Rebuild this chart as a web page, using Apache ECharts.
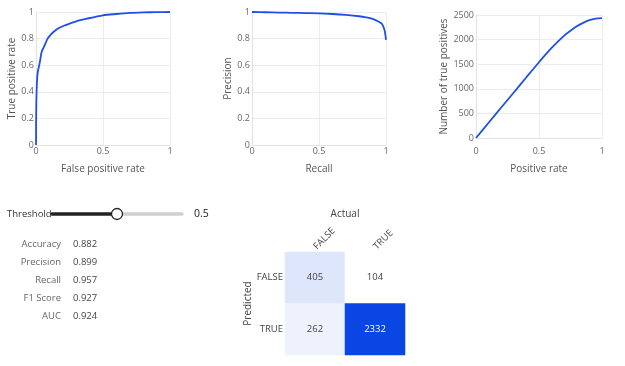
<!DOCTYPE html>
<html>
<head>
<meta charset="utf-8">
<script src="https://cdn.jsdelivr.net/npm/echarts@6/dist/echarts.min.js"></script>
<style>
html,body{margin:0;padding:0;background:#fff;}
#c{width:625px;height:366px;}
</style>
</head>
<body>
<div id="c"></div>
<script>
// ROC curve (false positive rate, true positive rate)
const rocFpr = [0, 0.001, 0.003, 0.006, 0.01, 0.015, 0.02, 0.03, 0.042, 0.06, 0.087, 0.11, 0.13, 0.17, 0.216, 0.3, 0.38, 0.5, 0.6, 0.7, 0.8, 0.9, 1];
const rocTpr = [0, 0.2, 0.35, 0.45, 0.52, 0.56, 0.58, 0.63, 0.7, 0.74, 0.8, 0.83, 0.85, 0.88, 0.9, 0.93, 0.95, 0.975, 0.985, 0.993, 0.997, 0.999, 1];
// Precision-recall curve
const prRecall = [0, 0.1, 0.2, 0.3, 0.4, 0.5, 0.6, 0.7, 0.8, 0.85, 0.9, 0.95, 0.97, 0.98, 0.99, 0.995, 1];
const prPrecision = [1.0, 0.998, 0.996, 0.994, 0.992, 0.99, 0.985, 0.978, 0.968, 0.96, 0.948, 0.925, 0.91, 0.89, 0.86, 0.83, 0.79];
// Cumulative gains (positive rate, number of true positives)
const gainRate = [0, 0.1, 0.2, 0.3, 0.4, 0.5, 0.6, 0.7, 0.75, 0.8, 0.85, 0.9, 0.95, 1];
const gainTP = [0, 310, 620, 925, 1235, 1540, 1830, 2080, 2180, 2270, 2340, 2395, 2425, 2436];
// Threshold slider and metrics
const thresholdValue = 0.5;
const metricNames = ['Accuracy', 'Precision', 'Recall', 'F1 Score', 'AUC'];
const metricValues = ['0.882', '0.899', '0.957', '0.927', '0.924'];
// Confusion matrix
const actualCats = ['FALSE', 'TRUE'];
const predictedCats = ['FALSE', 'TRUE'];
const cmValues = [[405, 104], [262, 2332]]; // rows: predicted, cols: actual

const FONT = '"Open Sans", "Noto Sans", sans-serif';
const LINE = '#1f50e6';
const GRIDC = '#ececec';
const TICKC = '#666';
const NAMEC = '#555';

function valAxis(gi, opts) {
  return Object.assign({
    type: 'value', gridIndex: gi,
    axisTick: {show: false},
    axisLine: {show: true, lineStyle: {color: '#e2e2e2'}},
    splitLine: {show: true, lineStyle: {color: GRIDC, width: 1}},
    axisLabel: {color: TICKC, fontFamily: FONT, fontSize: 9, margin: 2, formatter: v => String(v)},
    nameLocation: 'middle',
    nameTextStyle: {color: NAMEC, fontFamily: FONT, fontSize: 10}
  }, opts);
}

const zip = (a, b) => a.map((v, i) => [v, b[i]]);

const cmData = [];
cmValues.forEach((row, r) => row.forEach((v, c) => {
  cmData.push({value: [c, r, v], label: {color: v > 1500 ? '#ffffff' : '#444'}});
}));

const graphics = [];
// Threshold label + slider
const trackL = 52, trackR = 182, trackY = 214;
const knobX = trackL + thresholdValue * (trackR - trackL);
graphics.push({type: 'text', x: 7, y: trackY, style: {text: 'Threshold', font: '9.5px ' + FONT, fill: '#333', textVerticalAlign: 'middle'}});
graphics.push({type: 'line', shape: {x1: trackL, y1: trackY, x2: knobX, y2: trackY}, style: {stroke: '#222', lineWidth: 3.5, lineCap: 'round'}});
graphics.push({type: 'line', shape: {x1: knobX, y1: trackY, x2: trackR, y2: trackY}, style: {stroke: '#cfcfcf', lineWidth: 3.5, lineCap: 'round'}});
graphics.push({type: 'circle', shape: {cx: knobX, cy: trackY, r: 5.5}, style: {fill: '#fff', stroke: '#222', lineWidth: 1.3}});
graphics.push({type: 'text', x: 194, y: trackY, style: {text: String(thresholdValue), font: '10.5px ' + FONT, fill: '#222', textVerticalAlign: 'middle'}});
// Metrics
metricNames.forEach((n, i) => {
  const y = 244 + i * 18;
  graphics.push({type: 'text', x: 61, y: y, style: {text: n, font: '9.5px ' + FONT, fill: '#666', textAlign: 'right', textVerticalAlign: 'middle'}});
  graphics.push({type: 'text', x: 73, y: y, style: {text: metricValues[i], font: '9.5px ' + FONT, fill: '#444', textAlign: 'left', textVerticalAlign: 'middle'}});
});

const option = {
  backgroundColor: '#ffffff',
  animation: false,
  textStyle: {fontFamily: FONT},
  grid: [
    {left: 36, top: 12, width: 134, height: 133},
    {left: 252, top: 12, width: 134, height: 133},
    {left: 476, top: 15, width: 126, height: 123},
    {left: 285, top: 252, width: 120, height: 103}
  ],
  xAxis: [
    valAxis(0, {min: 0, max: 1, interval: 0.5, name: 'False positive rate', nameGap: 19}),
    valAxis(1, {min: 0, max: 1, interval: 0.5, name: 'Recall', nameGap: 19}),
    valAxis(2, {min: 0, max: 1, interval: 0.5, name: 'Positive rate', nameGap: 26,
      axisLabel: {color: TICKC, fontFamily: FONT, fontSize: 9, margin: 9, formatter: v => String(v)}}),
    {type: 'category', gridIndex: 3, data: actualCats, position: 'top',
      axisLine: {show: false}, axisTick: {show: false}, splitLine: {show: false},
      axisLabel: {rotate: -45, color: '#444', fontFamily: FONT, fontSize: 9.5, margin: 4},
      name: 'Actual', nameLocation: 'middle', nameGap: 33,
      nameTextStyle: {color: '#444', fontFamily: FONT, fontSize: 10}}
  ],
  yAxis: [
    valAxis(0, {min: 0, max: 1, interval: 0.2, name: 'True positive rate', nameGap: 19}),
    valAxis(1, {min: 0, max: 1, interval: 0.2, name: 'Precision', nameGap: 19}),
    valAxis(2, {min: 0, max: 2500, interval: 500, name: 'Number of true positives', nameGap: 22}),
    {type: 'category', gridIndex: 3, data: predictedCats, inverse: true,
      axisLine: {show: false}, axisTick: {show: false}, splitLine: {show: false},
      axisLabel: {color: '#444', fontFamily: FONT, fontSize: 9.5, margin: 2},
      name: 'Predicted', nameLocation: 'middle', nameGap: 30, nameRotate: 90,
      nameTextStyle: {color: '#444', fontFamily: FONT, fontSize: 10}}
  ],
  visualMap: {show: false, seriesIndex: 3, min: 104, max: 2332, inRange: {color: ['#ffffff', '#0a46e4']}, dimension: 2},
  series: [
    {type: 'line', xAxisIndex: 0, yAxisIndex: 0, data: zip(rocFpr, rocTpr), showSymbol: false, smooth: 0.3,
      lineStyle: {color: LINE, width: 1.8}},
    {type: 'line', xAxisIndex: 1, yAxisIndex: 1, data: zip(prRecall, prPrecision), showSymbol: false, smooth: 0.3,
      lineStyle: {color: LINE, width: 1.8}},
    {type: 'line', xAxisIndex: 2, yAxisIndex: 2, data: zip(gainRate, gainTP), showSymbol: false, smooth: 0.3,
      lineStyle: {color: LINE, width: 1.8}},
    {type: 'heatmap', xAxisIndex: 3, yAxisIndex: 3, data: cmData,
      label: {show: true, fontFamily: FONT, fontSize: 9.5},
      itemStyle: {borderWidth: 0}}
  ],
  graphic: graphics
};

const chart = echarts.init(document.getElementById('c'), null, {renderer: 'canvas'});
chart.setOption(option);
</script>
</body>
</html>
